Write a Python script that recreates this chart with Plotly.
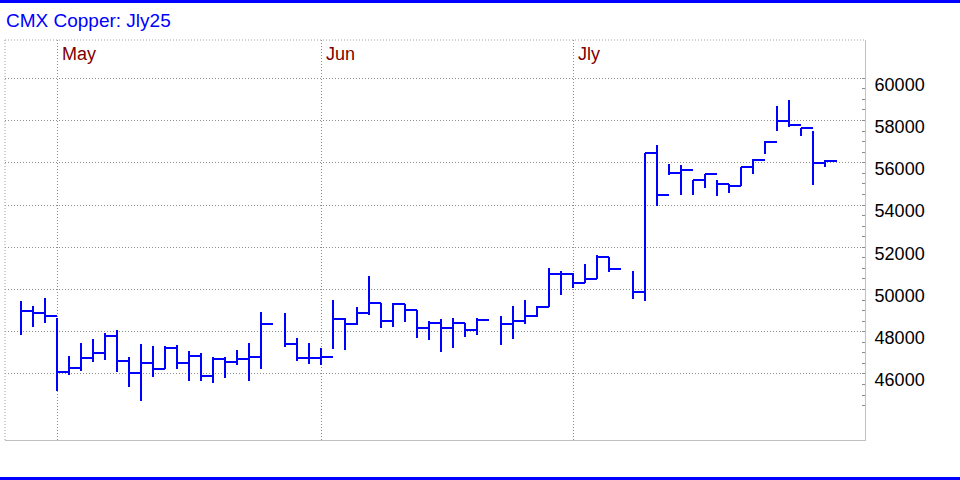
import plotly.graph_objects as go
import pandas as pd

# ---- data ----
sessions = [d.strftime("%Y-%m-%d") for d in pd.bdate_range("2025-04-25", periods=68)]
high = [49450, 49210, 49620, 48630, 46840, 47460, 47650, 47930, 48070, 46780,
        47410, 47320, 47320, 47360, 47080, 46980, 46790, 46790, 47130, 47460,
        48930, None, 48880, 47680, 47460, 47250, 49490, 48670, 49150, 50630,
        49380, 49380, 49290, 49050, 48490, 48590, 48670, 48390, 48670, None,
        48740, 49210, 49490, 49220, 51010, 50870, 50760, 51230, 51620, 51520,
        None, 50870, 56480, 56830, 55930, 55880, 55190, 55480, 55190, 55010,
        55810, 56160, 57020, 58690, 58970, 57660, 57510, 56120]
low = [47840, 48230, 48420, 45200, 45940, 46150, 46570, 46670, 46100, 45390,
       44730, 45860, 46240, 46240, 45670, 45670, 45580, 45810, 46430, 45670,
       46240, None, 47280, 46620, 46480, 46440, 47190, 47140, 48340, 48770,
       48180, 48230, 48470, 47710, 47610, 47050, 47240, 47770, 47830, None,
       47380, 47670, 48370, 48700, 49180, 49740, 50080, 50310, 50500, 50830,
       None, 49570, 49460, 53950, 55440, 54490, 54490, 54820, 54440, 54580,
       54900, 55480, 56430, 57520, 57710, 57280, 54960, 55810]
close = [48990, 48890, 48750, 46100, 46270, 46760, 47000, 47800, 46620, 46050,
         46520, 46240, 47240, 46520, 46850, 45900, 46710, 46570, 46710, 46810,
         48370, None, 47420, 46760, 46760, 46810, 48610, 48370, 48890, 49380,
         48510, 49290, 49050, 48180, 48390, 48180, 48390, 48090, 48550, None,
         48370, 48510, 48750, 49180, 50720, 50710, 50310, 50520, 51520, 50960,
         None, 49860, 56480, 54470, 55520, 55670, 55190, 55480, 55010, 54900,
         55810, 56150, 57000, 57990, 57800, 57660, 56000, 56100]
month_labels = ["May", "Jun", "Jly"]
price_ticks = [46000, 48000, 50000, 52000, 54000, 56000, 58000, 60000]
minor_ticks = [v for v in range(44500, 60001, 500) if v not in price_ticks]

# ---- build HLC bars (vertical high-low + close tick to the right) ----
xs, ys = [], []
for i, (h, l, c) in enumerate(zip(high, low, close)):
    if h is None:
        continue
    xs += [i, i, None, i, i + 1, None]
    ys += [l, h, None, c, c, None]

# month boundary = last session of previous month
month_pos = []
for k in range(1, len(sessions)):
    if sessions[k][5:7] != sessions[k - 1][5:7]:
        month_pos.append(k - 1)

fig = go.Figure()
fig.add_trace(go.Scatter(x=xs, y=ys, mode="lines",
                         line=dict(color="#0000ff", width=2),
                         hoverinfo="skip", showlegend=False))

grid_col = "#8c8c8c"
fig.update_layout(
    width=960, height=480,
    margin=dict(l=5, r=95, t=40, b=40),
    paper_bgcolor="white", plot_bgcolor="white",
    showlegend=False,
    font=dict(family="Liberation Sans, Arial, sans-serif"),
    xaxis=dict(range=[-1.333, 70.333], tickvals=month_pos, showticklabels=False,
               ticks="", showgrid=True, gridcolor=grid_col, griddash="1px,2px",
               gridwidth=1, zeroline=False, showline=True, linecolor="#c0c0c0",
               linewidth=1, mirror=False),
    yaxis=dict(range=[42873, 61813], side="right", tickvals=price_ticks,
               tickformat="d", showgrid=True, gridcolor=grid_col,
               griddash="1px,2px", gridwidth=1, zeroline=False,
               showline=True, linecolor="#c0c0c0", linewidth=1,
               ticks="inside", ticklen=3, tickcolor=grid_col,
               minor=dict(tickvals=minor_ticks, ticks="inside", ticklen=3,
                          tickcolor=grid_col, showgrid=False),
               tickfont=dict(size=18, color="black"),
               ticklabelstandoff=5, ticklabelshift=6),
)

annotations = [dict(text="CMX Copper: Jly25", xref="paper", yref="paper",
                    x=(6 - 5) / 860, y=(440 - 21) / 400, xanchor="left",
                    yanchor="middle", showarrow=False, xshift=-2,
                    font=dict(size=19, color="#0000ff"))]
for pos, lab in zip(month_pos, month_labels):
    annotations.append(dict(text=lab, x=pos, xref="x", yref="paper",
                            y=(440 - 54) / 400, xanchor="left", yanchor="middle",
                            xshift=3, showarrow=False,
                            font=dict(size=18, color="#800000")))
fig.update_layout(annotations=annotations)

shapes = [
    # top & bottom blue rules
    dict(type="line", xref="paper", yref="paper", x0=-0.01, x1=1.12,
         y0=(440 - 1.5) / 400, y1=(440 - 1.5) / 400,
         line=dict(color="#0000ff", width=3)),
    dict(type="line", xref="paper", yref="paper", x0=-0.01, x1=1.12,
         y0=(440 - 478.5) / 400, y1=(440 - 478.5) / 400,
         line=dict(color="#0000ff", width=3)),
    # dotted left and top frame
    dict(type="line", xref="paper", yref="paper", x0=0, x1=0, y0=0, y1=1,
         line=dict(color="#a0a0a0", width=1, dash="1px,2px")),
    dict(type="line", xref="paper", yref="paper", x0=0, x1=1, y0=1, y1=1,
         line=dict(color="#a0a0a0", width=1, dash="1px,2px")),
]
fig.update_layout(shapes=shapes)

fig.write_html("out.html", config={"displayModeBar": False},
               post_script="document.body.style.margin='0';"
                           "document.body.style.overflow='hidden';"
                           "document.querySelectorAll('.scatterlayer path')"
                           ".forEach(function(p){p.style.shapeRendering='crispEdges';});")
